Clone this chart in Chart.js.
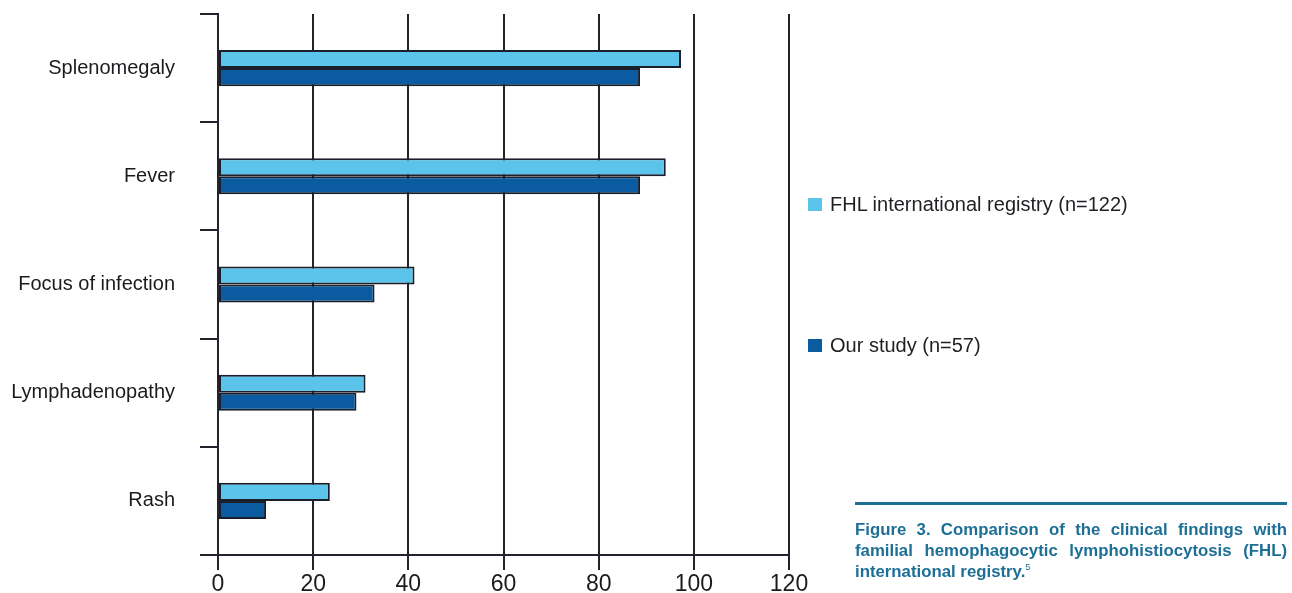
<!DOCTYPE html>
<html>
<head>
<meta charset="utf-8">
<script src="https://cdn.jsdelivr.net/npm/chart.js@4/dist/chart.umd.min.js"></script>
<style>
  html, body { margin: 0; padding: 0; background: #ffffff; }
  #wrap { position: relative; width: 1292px; height: 593px; overflow: hidden; }
  #chartBox { position: absolute; left: 0; top: 0; width: 1292px; height: 593px; }
  .legend-item { position: absolute; left: 808px; height: 22px; display: flex; align-items: center;
    font-family: "Liberation Sans", Arial, sans-serif; font-size: 20px; color: #1f1f24; white-space: nowrap; }
  .legend-item .swatch { width: 14px; height: 13px; margin-right: 8px; }
  #caption { position: absolute; left: 855px; top: 502px; width: 432px;
    border-top: 3px solid #1d6f96; padding-top: 14px;
    font-family: "Liberation Sans", Arial, sans-serif; font-weight: bold; font-size: 16.8px;
    line-height: 21px; color: #1d6f96; }
  #caption .jl { text-align: justify; text-align-last: justify; white-space: nowrap; }
  #caption sup { font-size: 9px; font-weight: normal; vertical-align: 7px; line-height: 0; }
</style>
</head>
<body>
<div id="wrap">
  <div id="chartBox"><canvas id="chart" width="1292" height="593"></canvas></div>
  <div id="legend"></div>
  <div id="caption">
    <div class="jl">Figure 3. Comparison of the clinical findings with</div>
    <div class="jl">familial hemophagocytic lymphohistiocytosis (FHL)</div>
    <div>international registry.<sup>5</sup></div>
  </div>
</div>
<script>
// Clinical findings, percentage of patients
const categories = ['Splenomegaly', 'Fever', 'Focus of infection', 'Lymphadenopathy', 'Rash'];
const registryValues = [97.3, 94.1, 41.3, 31.0, 23.5];
const studyValues = [88.7, 88.7, 32.9, 29.1, 10.1];
const seriesNames = ['FHL international registry (n=122)', 'Our study (n=57)'];
const seriesColors = ['#5bc4ea', '#0a5b9f'];
const axisMin = 0;
const axisMax = 120;
const axisStep = 20;

const lineColor = '#23232f';
const labelFont = '"Liberation Sans", Arial, sans-serif';

const chart = new Chart(document.getElementById('chart'), {
  type: 'bar',
  data: {
    labels: categories,
    datasets: [
      { label: seriesNames[0], data: registryValues, backgroundColor: seriesColors[0] },
      { label: seriesNames[1], data: studyValues, backgroundColor: seriesColors[1] }
    ]
  },
  options: {
    indexAxis: 'y',
    responsive: false,
    animation: false,
    devicePixelRatio: 1,
    layout: { padding: { left: 0, top: 14, right: 503, bottom: 0 } },
    datasets: {
      bar: {
        categoryPercentage: 0.334,
        barPercentage: 1,
        borderColor: '#1a1f2b',
        borderWidth: 2,
        borderSkipped: false
      }
    },
    plugins: {
      legend: { display: false },
      tooltip: { enabled: false }
    },
    scales: {
      x: {
        type: 'linear',
        min: axisMin,
        max: axisMax,
        ticks: {
          stepSize: axisStep,
          color: '#1b1b1f',
          font: { family: labelFont, size: 23 },
          padding: 1,
          maxRotation: 0
        },
        grid: { color: lineColor, lineWidth: 2, tickLength: 15, drawOnChartArea: true },
        border: { display: true, color: lineColor, width: 2 },
        afterFit(scale) { scale.height = 38; }
      },
      y: {
        ticks: {
          color: '#1b1b1f',
          font: { family: labelFont, size: 20 },
          padding: 25
        },
        grid: { color: lineColor, lineWidth: 2, tickLength: 18, drawOnChartArea: false, offset: true },
        border: { display: true, color: lineColor, width: 2 },
        afterFit(scale) {
          // fixed label column; no extra vertical overflow padding
          scale.width = 218;
          scale.paddingTop = 0;
          scale.paddingBottom = 0;
        }
      }
    }
  }
});

// Legend built from the chart's own datasets
const legendBox = document.getElementById('legend');
const legendCenters = [204, 345];
chart.data.datasets.forEach((ds, i) => {
  const item = document.createElement('div');
  item.className = 'legend-item';
  item.style.top = (legendCenters[i] - 11) + 'px';
  const sw = document.createElement('span');
  sw.className = 'swatch';
  sw.style.background = ds.backgroundColor;
  const tx = document.createElement('span');
  tx.textContent = ds.label;
  item.appendChild(sw);
  item.appendChild(tx);
  legendBox.appendChild(item);
});
</script>
</body>
</html>
